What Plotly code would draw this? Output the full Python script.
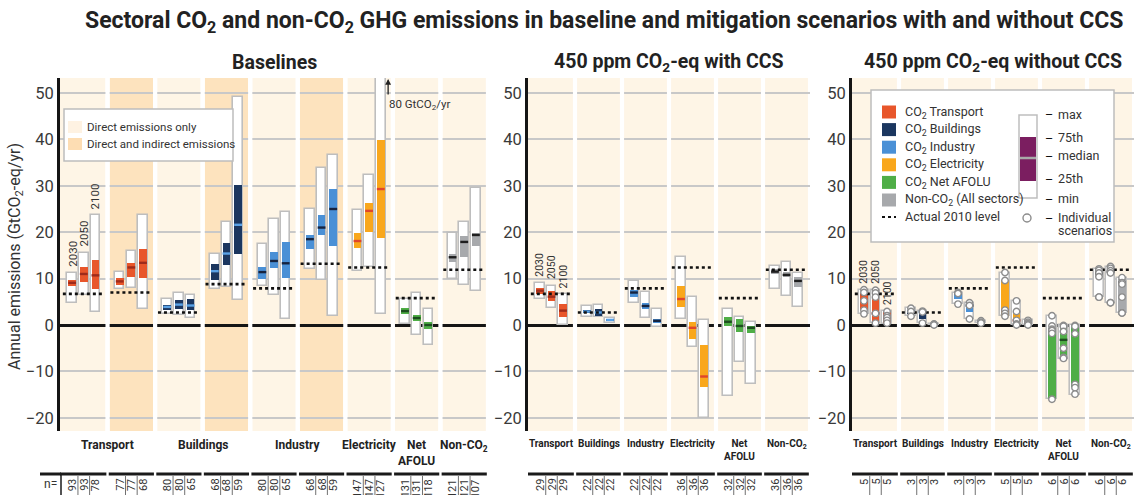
import plotly.graph_objects as go

W, H = 1134, 495
FONT = "Roboto, Liberation Sans, sans-serif"
INK = "#333333"

YEARS = ["2030", "2050", "2100"]

# ---------------- Baselines ----------------
BASE_SECTOR = ["Transport", "Transport", "Buildings", "Buildings", "Industry",
               "Industry", "Electricity", "AFOLU", "NonCO2"]
BASE_SHADE = ["direct", "indirect", "direct", "indirect", "direct",
              "indirect", "direct", "direct", "direct"]
BASE_2010 = [6.7, 7.0, 2.7, 8.8, 7.9, 13.2, 12.4, 5.8, 11.9]
BASE_MIN = [[4.8, 6.5, 2.7], [7.7, 7.9, 3.4], [2.4, 2.2, 1.6], [7.7, 8.1, 5.4],
            [8.4, 6.5, 1.4], [12.1, 9.6, 1.9], [11.6, 12.5, 2.3], [0.2, -2.2, -4.3],
            [9.9, 8.6, 7.4]]
BASE_Q1 = [[8.3, 9.3, 7.8], [8.6, 10.4, 10.1], [3.2, 3.4, 3.2], [9.7, 12.9, 15.4],
           [9.9, 12.2, 10.1], [16.4, 19.4, 17.1], [16.7, 20.1, 18.7], [2.3, 0.9, -0.9],
           [13.6, 14.7, 17.0]]
BASE_MED = [[9.1, 11.0, 10.7], [9.4, 12.4, 13.4], [3.9, 4.4, 4.2], [11.6, 15.4, 21.6],
            [11.4, 13.8, 13.3], [18.5, 21.0, 25.0], [18.1, 24.6, 29.3], [3.0, 1.5, 0.0],
            [14.6, 17.9, 19.4]]
BASE_Q3 = [[9.8, 12.4, 14.0], [10.1, 13.4, 16.4], [4.4, 5.3, 5.7], [13.1, 17.6, 30.2],
           [12.6, 15.8, 17.8], [19.3, 23.8, 29.3], [19.8, 26.4, 39.9], [3.7, 2.1, 0.7],
           [15.4, 19.2, 19.8]]
BASE_MAX = [[11.3, 15.6, 23.7], [11.5, 16.0, 23.7], [5.5, 6.8, 6.5], [15.3, 22.3, 49.1],
            [17.4, 22.8, 24.3], [24.9, 33.8, 36.6], [24.8, 32.4, 80.0], [5.6, 7.0, 3.4],
            [19.8, 22.1, 29.5]]
BASE_N = [[93, 93, 78], [77, 77, 68], [80, 80, 65], [68, 68, 59], [80, 80, 65],
          [68, 68, 59], [147, 147, 127], [131, 131, 118], [121, 121, 107]]
BASE_LABELS = [(0.5, "Transport"), (2.5, "Buildings"), (4.5, "Industry"),
               (6, "Electricity"), (7, "Net<br>AFOLU"), (8, "Non-CO<sub>2</sub>")]

# ---------------- 450 ppm with CCS ----------------
MIT_SECTOR = ["Transport", "Buildings", "Industry", "Electricity", "AFOLU", "NonCO2"]
MIT_2010 = [6.7, 2.7, 7.9, 12.4, 5.8, 11.9]
CCS_MIN = [[5.6, 3.7, 0.1], [1.8, 1.7, 0.4], [4.7, 1.6, -0.5], [1.2, -4.7, -20.1],
           [-15.4, -8.0, -12.8], [7.7, 6.3, 3.9]]
CCS_Q1 = [[6.6, 5.2, 1.7], [2.6, 1.9, 0.8], [6.0, 3.4, 0.4], [3.9, -3.1, -13.4],
          [-0.2, -1.6, -1.8], [11.1, 10.3, 8.1]]
CCS_MED = [[7.4, 6.1, 3.1], [2.9, 2.7, 1.1], [7.0, 4.1, 0.9], [5.6, -0.6, -11.1],
           [0.7, -0.2, -0.6], [11.5, 10.8, 9.5]]
CCS_Q3 = [[7.9, 7.4, 4.5], [3.2, 3.4, 1.3], [7.5, 4.7, 1.4], [8.4, 0.6, -4.3],
          [1.8, 1.4, -0.2], [12.0, 11.5, 10.4]]
CCS_MAX = [[9.1, 8.5, 6.6], [4.2, 4.4, 1.6], [9.5, 7.2, 3.4], [14.7, 6.1, 1.1],
           [3.4, 1.8, 0.6], [12.8, 13.5, 11.3]]
CCS_N = [[29, 29, 29], [22, 22, 22], [22, 22, 22], [36, 36, 36], [32, 32, 32], [36, 36, 36]]

# ---------------- 450 ppm without CCS ----------------
NOCCS_MIN = [[2.4, 0.4, 0.3], [1.9, 0.4, 0.0], [4.5, 1.3, 0.4], [1.9, 0.0, 0.0],
             [-16.0, -7.3, -15.0], [6.0, 4.8, 2.6]]
NOCCS_Q1 = [[3.2, 0.5, 0.5], [2.4, 1.4, 0.05], [5.6, 2.8, 0.5], [2.0, 0.2, 0.1],
            [-16.0, -7.2, -13.3], [10.4, 11.0, 2.7]]
NOCCS_MED = [[5.2, 2.5, 1.6], [2.9, 2.8, 0.1], [6.8, 4.2, 0.6], [3.2, 1.0, 0.3],
             [-1.0, -3.2, -1.9], [11.2, 11.5, 9.1]]
NOCCS_Q3 = [[7.0, 6.9, 2.7], [3.3, 3.0, 0.15], [6.9, 4.5, 0.75], [9.6, 2.9, 0.6],
            [-0.9, -0.1, -0.1], [11.8, 12.2, 10.0]]
NOCCS_MAX = [[7.6, 7.5, 3.0], [3.6, 3.0, 0.2], [7.0, 4.8, 0.9], [11.3, 5.2, 1.0],
             [2.0, -0.1, -0.1], [12.1, 12.6, 10.2]]
NOCCS_POINTS = [
    [[7.6, 7.0, 5.2, 3.2, 2.4], [7.5, 6.9, 6.0, 2.5, 0.4], [2.9, 2.0, 1.6, 1.0, 0.4]],
    [[3.6, 2.9, 1.9], [3.0, 2.8, 0.4], [0.2, 0.1, 0.0]],
    [[7.0, 6.8, 4.5], [4.8, 4.2, 1.3], [0.9, 0.6, 0.4]],
    [[11.3, 9.6, 3.2, 2.5, 1.9], [5.2, 2.9, 1.0, 0.2, 0.0], [1.0, 0.6, 0.3, 0.1, 0.0]],
    [[2.0, -0.2, -0.9, -1.2, -1.8, -16.0], [-0.1, -0.3, -1.4, -5.0, -7.0, -7.2],
     [-0.1, -0.3, -1.9, -12.8, -13.5, -14.9]],
    [[12.1, 11.8, 11.2, 10.4, 6.0, 6.0], [12.6, 12.2, 11.7, 11.2, 4.8, 4.8],
     [10.2, 9.1, 8.8, 6.0, 2.6, 2.6]],
]
NOCCS_N = [[5, 5, 5], [3, 3, 3], [3, 3, 3], [5, 5, 5], [6, 6, 6], [6, 6, 6]]
MIT_LABELS = [(0, "Transport"), (1, "Buildings"), (2, "Industry"), (3, "Electricity"),
              (4, "Net<br>AFOLU"), (5, "Non-CO<sub>2</sub>")]

# sector fill / median colours
FILL = {"Transport": "#E8562B", "Buildings": "#1B365F", "Industry": "#4A90D6",
        "Electricity": "#F9A71C", "AFOLU": "#4FAE47", "NonCO2": "#A7A9AC"}
MEDIAN = {"Transport": "#9E2B1B", "Buildings": "#5AA2E6", "Industry": "#16233F",
          "Electricity": "#E0452A", "AFOLU": "#1D4D1F", "NonCO2": "#1E1E1E"}
SHADE = {"direct": "#FEF5E6", "indirect": "#FDE3BE"}
BOX_EDGE = "#BEBEBE"
GRID = "#C8C8C8"

# layout geometry (pixels)
PANEL_PX = [(60, 488), (528, 810), (852, 1134)]
PLOT_TOP, PLOT_BOT, ZERO_PX, PX_PER_UNIT = 78, 431, 325, 4.64
YMAX = (ZERO_PX - PLOT_TOP) / PX_PER_UNIT
YMIN = -(PLOT_BOT - ZERO_PX) / PX_PER_UNIT

OFF = [-0.245, 0.0, 0.245]
BOX_W = 0.2
IQR_W = 0.165
COL_HALF = 0.456


def px(p):
    return p / W


def py(p):
    return 1 - p / H


def note(x, y, text, size, color=INK, xanchor="center", yanchor="middle", **kw):
    """Text placed in figure pixels."""
    return dict(x=px(x), y=py(y), xref="paper", yref="paper", text=text, showarrow=False,
                xanchor=xanchor, yanchor=yanchor,
                font=dict(family=FONT, size=size, color=color), **kw)


fig = go.Figure()
shapes, annotations = [], []


def add_panel(k, sectors, shades, lvl, mins, q1s, meds, q3s, maxs, ns, labels,
              points=None, year_size=11.5, label_size=12):
    xa = "x" if k == 1 else f"x{k}"
    ya = "y" if k == 1 else f"y{k}"
    ncol = len(sectors)

    # column backgrounds and white separators
    for c in range(ncol):
        x0 = c - 0.5 if c == 0 else c - COL_HALF
        shapes.append(dict(type="rect", xref=xa, yref=f"{ya} domain", x0=x0, x1=c + COL_HALF,
                           y0=0, y1=1, fillcolor=SHADE[shades[c]], line=dict(width=0),
                           layer="below"))
        right = c + 1 - COL_HALF if c < ncol - 1 else c + 0.5
        if c < ncol - 1 or k == 1:
            shapes.append(dict(type="rect", xref=xa, yref=f"{ya} domain", x0=c + COL_HALF,
                               x1=right, y0=-0.002, y1=1.002, fillcolor="white",
                               line=dict(width=0), layer="above"))

    xs, lo, span, qlo, qspan, qcol = [], [], [], [], [], []
    med_x = {s: [] for s in FILL}
    med_y = {s: [] for s in FILL}
    for c in range(ncol):
        s = sectors[c]
        for j in range(3):
            x = c + OFF[j]
            xs.append(x)
            lo.append(mins[c][j])
            span.append(maxs[c][j] - mins[c][j])
            qlo.append(q1s[c][j])
            qspan.append(q3s[c][j] - q1s[c][j])
            qcol.append(FILL[s])
            med_x[s] += [x - IQR_W / 2, x + IQR_W / 2, None]
            med_y[s] += [meds[c][j], meds[c][j], None]

    fig.add_trace(go.Bar(x=xs, base=lo, y=span, width=BOX_W, xaxis=xa, yaxis=ya,
                         marker=dict(color="white", line=dict(color=BOX_EDGE, width=1.6)),
                         hoverinfo="skip", showlegend=False))
    fig.add_trace(go.Bar(x=xs, base=qlo, y=qspan, width=IQR_W, xaxis=xa, yaxis=ya,
                         marker=dict(color=qcol, line=dict(width=0)),
                         hoverinfo="skip", showlegend=False))
    for s in FILL:
        if med_x[s]:
            fig.add_trace(go.Scatter(x=med_x[s], y=med_y[s], mode="lines", xaxis=xa, yaxis=ya,
                                     line=dict(color=MEDIAN[s], width=2.4),
                                     hoverinfo="skip", showlegend=False))

    # actual 2010 levels
    dx, dy = [], []
    for c in range(ncol):
        dx += [c - 0.44, c + 0.44, None]
        dy += [lvl[c], lvl[c], None]
    fig.add_trace(go.Scatter(x=dx, y=dy, mode="lines", xaxis=xa, yaxis=ya,
                             line=dict(color="#111111", width=2.6, dash="dot"),
                             hoverinfo="skip", showlegend=False))

    # individual scenarios
    if points is not None:
        sx, sy = [], []
        for c in range(ncol):
            for j in range(3):
                for v in points[c][j]:
                    sx.append(c + OFF[j])
                    sy.append(v)
        fig.add_trace(go.Scatter(x=sx, y=sy, mode="markers", xaxis=xa, yaxis=ya,
                                 marker=dict(symbol="circle", size=6.5, color="white",
                                             line=dict(color="#8C8C8C", width=1.4)),
                                 hoverinfo="skip", showlegend=False))

    # year labels above the first column
    for j in range(3):
        annotations.append(dict(x=OFF[j], y=maxs[0][j], xref=xa, yref=ya, text=YEARS[j],
                                textangle=-90, showarrow=False, xanchor="center",
                                yanchor="bottom", yshift=4,
                                font=dict(family=FONT, size=year_size, color=INK)))

    # sector labels
    for x, t in labels:
        annotations.append(dict(x=x, y=py(436), xref=xa, yref="paper", text=f"<b>{t}</b>",
                                showarrow=False, xanchor="center", yanchor="top",
                                font=dict(family=FONT, size=label_size, color="#222222")))

    # sample-size row
    for c in range(ncol):
        x0 = c - 0.475 if c > 0 else -0.5
        shapes.append(dict(type="line", xref=xa, yref="paper", x0=x0, x1=c + 0.475,
                           y0=py(474), y1=py(474), line=dict(color="#1a1a1a", width=3)))
        for b in (-0.1225, 0.1225):
            shapes.append(dict(type="line", xref=xa, yref="paper", x0=c + b, x1=c + b,
                               y0=py(476), y1=py(496), line=dict(color="#707070", width=1)))
        for j in range(3):
            annotations.append(dict(x=c + OFF[j], y=py(477), xref=xa, yref="paper",
                                    text=str(ns[c][j]), textangle=-90, showarrow=False,
                                    xanchor="center", yanchor="top",
                                    font=dict(family=FONT, size=11, color=INK)))


add_panel(1, BASE_SECTOR, BASE_SHADE, BASE_2010, BASE_MIN, BASE_Q1, BASE_MED, BASE_Q3,
          BASE_MAX, BASE_N, BASE_LABELS, year_size=11.5, label_size=12)
add_panel(2, MIT_SECTOR, ["direct"] * 6, MIT_2010, CCS_MIN, CCS_Q1, CCS_MED, CCS_Q3,
          CCS_MAX, CCS_N, MIT_LABELS, year_size=10.5, label_size=10)
add_panel(3, MIT_SECTOR, ["direct"] * 6, MIT_2010, NOCCS_MIN, NOCCS_Q1, NOCCS_MED,
          NOCCS_Q3, NOCCS_MAX, NOCCS_N, MIT_LABELS, points=NOCCS_POINTS, year_size=10.5,
          label_size=10)

# "n=" cell of the sample-size row
shapes.append(dict(type="line", xref="paper", yref="paper", x0=px(40), x1=px(61),
                   y0=py(474), y1=py(474), line=dict(color="#1a1a1a", width=3)))
shapes.append(dict(type="line", xref="paper", yref="paper", x0=px(61), x1=px(61),
                   y0=py(474), y1=py(496), line=dict(color="#1a1a1a", width=1.5)))
annotations.append(note(50, 484, "n=", 12))

# clipped electricity maximum in 2100
annotations.append(dict(x=6.4, y=py(PLOT_TOP + 1), xref="x", yref="paper", ax=0, ay=17,
                        text="", showarrow=True, arrowhead=2, arrowsize=0.9,
                        arrowwidth=1.3, arrowcolor="#222222"))
annotations.append(dict(x=6.37, y=py(104), xref="x", yref="paper",
                        text="80 GtCO<sub>2</sub>/yr", showarrow=False, xanchor="left",
                        yanchor="middle", font=dict(family=FONT, size=11.5, color=INK)))

# titles
annotations.append(note(604, 22, "<b>Sectoral CO<sub>2</sub> and non-CO<sub>2</sub> GHG emissions "
                                 "in baseline and mitigation scenarios with and without CCS</b>",
                        23, color="#222222"))
for (a, b), t in zip(PANEL_PX, ["Baselines", "450 ppm CO<sub>2</sub>-eq with CCS",
                                "450 ppm CO<sub>2</sub>-eq without CCS"]):
    annotations.append(note((a + b) / 2, 62, f"<b>{t}</b>", 19.5, color="#222222"))
annotations.append(note(15, 257, "Annual emissions (GtCO<sub>2</sub>-eq/yr)", 16,
                        textangle=-90))

# shading legend (baselines)
shapes.append(dict(type="rect", xref="paper", yref="paper", x0=px(64), x1=px(233),
                   y0=py(161), y1=py(109), fillcolor="white",
                   line=dict(color="#BDBDBD", width=1.5)))
for yy, col, t in [(127, "#FEF2E2", "Direct emissions only"),
                   (144, "#FDDDB3", "Direct and indirect emissions")]:
    shapes.append(dict(type="rect", xref="paper", yref="paper", x0=px(68), x1=px(82),
                       y0=py(yy + 6), y1=py(yy - 6), fillcolor=col, line=dict(width=0)))
    annotations.append(note(85, yy, t, 11.5, xanchor="left"))

# sector / statistic legend (without CCS)
shapes.append(dict(type="rect", xref="paper", yref="paper", x0=px(871), x1=px(1114),
                   y0=py(242), y1=py(90), fillcolor="white",
                   line=dict(color="#BDBDBD", width=1.5)))
legend_rows = [("Transport", "CO<sub>2</sub> Transport"), ("Buildings", "CO<sub>2</sub> Buildings"),
               ("Industry", "CO<sub>2</sub> Industry"), ("Electricity", "CO<sub>2</sub> Electricity"),
               ("AFOLU", "CO<sub>2</sub> Net AFOLU"), ("NonCO2", "Non-CO<sub>2</sub> (All sectors)")]
for i, (s, t) in enumerate(legend_rows):
    yy = 112 + i * 17.6
    shapes.append(dict(type="rect", xref="paper", yref="paper", x0=px(882), x1=px(896),
                       y0=py(yy + 6.5), y1=py(yy - 6.5), fillcolor=FILL[s], line=dict(width=0)))
    annotations.append(note(903, yy, t, 12.5, xanchor="left"))
shapes.append(dict(type="line", xref="paper", yref="paper", x0=px(882), x1=px(896),
                   y0=py(217), y1=py(217), line=dict(color="#111111", width=2.2, dash="dot")))
annotations.append(note(903, 217, "Actual 2010 level", 12.5, xanchor="left"))

shapes.append(dict(type="rect", xref="paper", yref="paper", x0=px(1019), x1=px(1037),
                   y0=py(198), y1=py(115), fillcolor="white", line=dict(color=BOX_EDGE, width=1.5)))
shapes.append(dict(type="rect", xref="paper", yref="paper", x0=px(1020), x1=px(1036),
                   y0=py(181), y1=py(137), fillcolor="#7B1E60", line=dict(width=0)))
shapes.append(dict(type="line", xref="paper", yref="paper", x0=px(1020), x1=px(1036),
                   y0=py(158), y1=py(158), line=dict(color="#A9A9A9", width=2.5)))
for yy, t in [(114, "max"), (137, "75th"), (155, "median"), (178, "25th"), (199, "min"),
              (218, "Individual")]:
    annotations.append(note(1043, yy + 1, "–", 12.5, color="#111111", xanchor="left"))
    annotations.append(note(1056, yy, t, 12.5, xanchor="left"))
annotations.append(note(1056, 230, "scenarios", 12.5, xanchor="left"))
shapes.append(dict(type="circle", xref="paper", yref="paper", x0=px(1023), x1=px(1031),
                   y0=py(222), y1=py(214), fillcolor="white",
                   line=dict(color="#8C8C8C", width=1.4)))

# axes
ydom = [py(PLOT_BOT), py(PLOT_TOP)]
layout_axes = {}
for k, (a, b) in enumerate(PANEL_PX, start=1):
    ncol = 9 if k == 1 else 6
    xs = "xaxis" if k == 1 else f"xaxis{k}"
    ys = "yaxis" if k == 1 else f"yaxis{k}"
    layout_axes[xs] = dict(domain=[px(a), px(b)], range=[-0.5, ncol - 0.5],
                           anchor="y" if k == 1 else f"y{k}", showgrid=False,
                           zeroline=False, showticklabels=False, showline=False,
                           fixedrange=True)
    layout_axes[ys] = dict(domain=ydom, range=[YMIN, YMAX], anchor="x" if k == 1 else f"x{k}",
                           tick0=0, dtick=10, showgrid=True, gridcolor=GRID, gridwidth=2,
                           zeroline=True, zerolinecolor="#151515", zerolinewidth=3,
                           showline=True, linecolor="#151515", linewidth=3, ticks="",
                           tickfont=dict(family=FONT, size=16.5, color="#3A3A3A"),
                           fixedrange=True)

fig.update_layout(width=W, height=H, autosize=False, margin=dict(l=0, r=0, t=0, b=0),
                  paper_bgcolor="white", plot_bgcolor="white", barmode="overlay",
                  bargap=0, showlegend=False, shapes=shapes, annotations=annotations,
                  font=dict(family=FONT, color=INK), **layout_axes)

fig.write_html("out.html")
